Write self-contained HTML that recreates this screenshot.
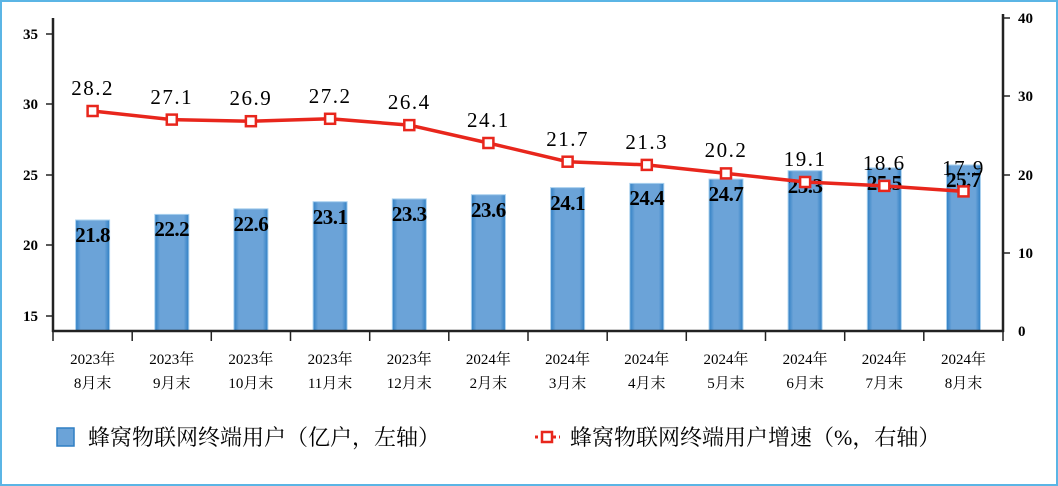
<!DOCTYPE html>
<html><head><meta charset="utf-8"><style>
body{margin:0;background:#fff}
svg{display:block}
.ll{font-family:"Liberation Serif",serif;font-size:21px;letter-spacing:1.5px}
.bl{font-family:"Liberation Serif",serif;font-size:21px;font-weight:bold;letter-spacing:-0.5px}
.ax{font-family:"Liberation Serif",serif;font-size:15px;font-weight:bold}
.cat{font-family:"Liberation Serif","Noto Serif CJK SC",serif;font-size:15px}
.lg{font-family:"Liberation Serif","Noto Serif CJK SC",serif;font-size:22px}
</style></head><body>
<svg width="1058" height="486" viewBox="0 0 1058 486">
<rect x="1" y="1" width="1056" height="484" fill="#fff" stroke="#5bb5e5" stroke-width="2"/>
<defs><linearGradient id="g" x1="0" x2="1"><stop offset="0" stop-color="#2f7fc4"/><stop offset="0.15" stop-color="#6ba3d8"/><stop offset="0.85" stop-color="#6ba3d8"/><stop offset="1" stop-color="#2f7fc4"/></linearGradient></defs>
<g fill="url(#g)" stroke="#a9d0ee" stroke-width="1">
<rect x="75.6" y="220" width="34" height="111"/>
<rect x="154.8" y="214.4" width="34" height="116.6"/>
<rect x="233.9" y="208.8" width="34" height="122.2"/>
<rect x="313.1" y="201.7" width="34" height="129.3"/>
<rect x="392.3" y="198.9" width="34" height="132.1"/>
<rect x="471.4" y="194.7" width="34" height="136.3"/>
<rect x="550.6" y="187.6" width="34" height="143.4"/>
<rect x="629.8" y="183.4" width="34" height="147.6"/>
<rect x="709" y="179.1" width="34" height="151.9"/>
<rect x="788.1" y="170.7" width="34" height="160.3"/>
<rect x="867.3" y="167.9" width="34" height="163.1"/>
<rect x="946.5" y="165" width="34" height="166"/>
</g>
<g stroke="#222" stroke-width="2.5" fill="none">
<line x1="53" y1="18" x2="53" y2="332"/>
<line x1="1003" y1="14" x2="1003" y2="332"/>
<line x1="52" y1="331" x2="1004" y2="331"/>
</g>
<g stroke="#222" stroke-width="1.5">
<line x1="46" y1="34" x2="53" y2="34"/><line x1="46" y1="104" x2="53" y2="104"/><line x1="46" y1="175" x2="53" y2="175"/><line x1="46" y1="245" x2="53" y2="245"/><line x1="46" y1="316" x2="53" y2="316"/>
<line x1="1003" y1="18" x2="1010" y2="18"/><line x1="1003" y1="96" x2="1010" y2="96"/><line x1="1003" y1="175" x2="1010" y2="175"/><line x1="1003" y1="253" x2="1010" y2="253"/>
<line x1="53" y1="331" x2="53" y2="341"/><line x1="132.2" y1="331" x2="132.2" y2="341"/><line x1="211.3" y1="331" x2="211.3" y2="341"/><line x1="290.5" y1="331" x2="290.5" y2="341"/><line x1="369.7" y1="331" x2="369.7" y2="341"/><line x1="448.8" y1="331" x2="448.8" y2="341"/><line x1="528" y1="331" x2="528" y2="341"/><line x1="607.2" y1="331" x2="607.2" y2="341"/><line x1="686.3" y1="331" x2="686.3" y2="341"/><line x1="765.5" y1="331" x2="765.5" y2="341"/><line x1="844.7" y1="331" x2="844.7" y2="341"/><line x1="923.8" y1="331" x2="923.8" y2="341"/><line x1="1003" y1="331" x2="1003" y2="341"/>
</g>
<g class="ax" text-anchor="end">
<text x="38" y="39">35</text><text x="38" y="109">30</text><text x="38" y="180">25</text><text x="38" y="250">20</text><text x="38" y="321">15</text>
</g>
<g class="ax">
<text x="1018" y="23">40</text><text x="1018" y="101">30</text><text x="1018" y="180">20</text><text x="1018" y="258">10</text><text x="1018" y="336">0</text>
</g>
<g class="bl" text-anchor="middle">
<text x="92.6" y="242">21.8</text><text x="171.8" y="236">22.2</text><text x="250.9" y="231">22.6</text><text x="330.1" y="224">23.1</text><text x="409.3" y="221">23.3</text><text x="488.4" y="217">23.6</text><text x="567.6" y="210">24.1</text><text x="646.8" y="205">24.4</text><text x="726" y="201">24.7</text><text x="805.1" y="193">25.3</text><text x="884.3" y="190">25.5</text><text x="963.5" y="187">25.7</text>
</g>
<polyline fill="none" stroke="#e8261c" stroke-width="3.5" points="92.6,111 171.8,119.6 250.9,121.2 330.1,118.8 409.3,125.1 488.4,143 567.6,161.7 646.8,164.9 726,173.4 805.1,182 884.3,185.9 963.5,191.4"/>
<g fill="#fff" stroke="#e8261c" stroke-width="2.5">
<rect x="87.6" y="106" width="10" height="10"/><rect x="166.8" y="114.6" width="10" height="10"/><rect x="245.9" y="116.2" width="10" height="10"/><rect x="325.1" y="113.8" width="10" height="10"/><rect x="404.3" y="120.1" width="10" height="10"/><rect x="483.4" y="138" width="10" height="10"/><rect x="562.6" y="156.7" width="10" height="10"/><rect x="641.8" y="159.9" width="10" height="10"/><rect x="721" y="168.4" width="10" height="10"/><rect x="800.1" y="177" width="10" height="10"/><rect x="879.3" y="180.9" width="10" height="10"/><rect x="958.5" y="186.4" width="10" height="10"/>
</g>
<g class="ll" text-anchor="middle">
<text x="92.6" y="95">28.2</text><text x="171.8" y="104">27.1</text><text x="250.9" y="105">26.9</text><text x="330.1" y="103">27.2</text><text x="409.3" y="109">26.4</text><text x="488.4" y="127">24.1</text><text x="567.6" y="146">21.7</text><text x="646.8" y="149">21.3</text><text x="726" y="157">20.2</text><text x="805.1" y="166">19.1</text><text x="884.3" y="170">18.6</text><text x="963.5" y="175">17.9</text>
</g>
<g class="cat" text-anchor="middle">
<text x="92.6" y="364">2023年</text><text x="92.6" y="388">8月末</text>
<text x="171.8" y="364">2023年</text><text x="171.8" y="388">9月末</text>
<text x="250.9" y="364">2023年</text><text x="250.9" y="388">10月末</text>
<text x="330.1" y="364">2023年</text><text x="330.1" y="388">11月末</text>
<text x="409.3" y="364">2023年</text><text x="409.3" y="388">12月末</text>
<text x="488.4" y="364">2024年</text><text x="488.4" y="388">2月末</text>
<text x="567.6" y="364">2024年</text><text x="567.6" y="388">3月末</text>
<text x="646.8" y="364">2024年</text><text x="646.8" y="388">4月末</text>
<text x="726" y="364">2024年</text><text x="726" y="388">5月末</text>
<text x="805.1" y="364">2024年</text><text x="805.1" y="388">6月末</text>
<text x="884.3" y="364">2024年</text><text x="884.3" y="388">7月末</text>
<text x="963.5" y="364">2024年</text><text x="963.5" y="388">8月末</text>
</g>
<rect x="57" y="428" width="17" height="18" fill="#6ba3d8" stroke="#2f7fc4" stroke-width="1.5"/>
<text class="lg" x="88" y="445">蜂窝物联网终端用户（亿户，左轴）</text>
<line x1="535" y1="437" x2="560" y2="437" stroke="#e8261c" stroke-width="3" stroke-dasharray="3,3"/>
<rect x="542" y="432" width="10" height="10" fill="#fff" stroke="#e8261c" stroke-width="2.5"/>
<text class="lg" x="570" y="445">蜂窝物联网终端用户增速（%，右轴）</text>
</svg>
</body></html>
